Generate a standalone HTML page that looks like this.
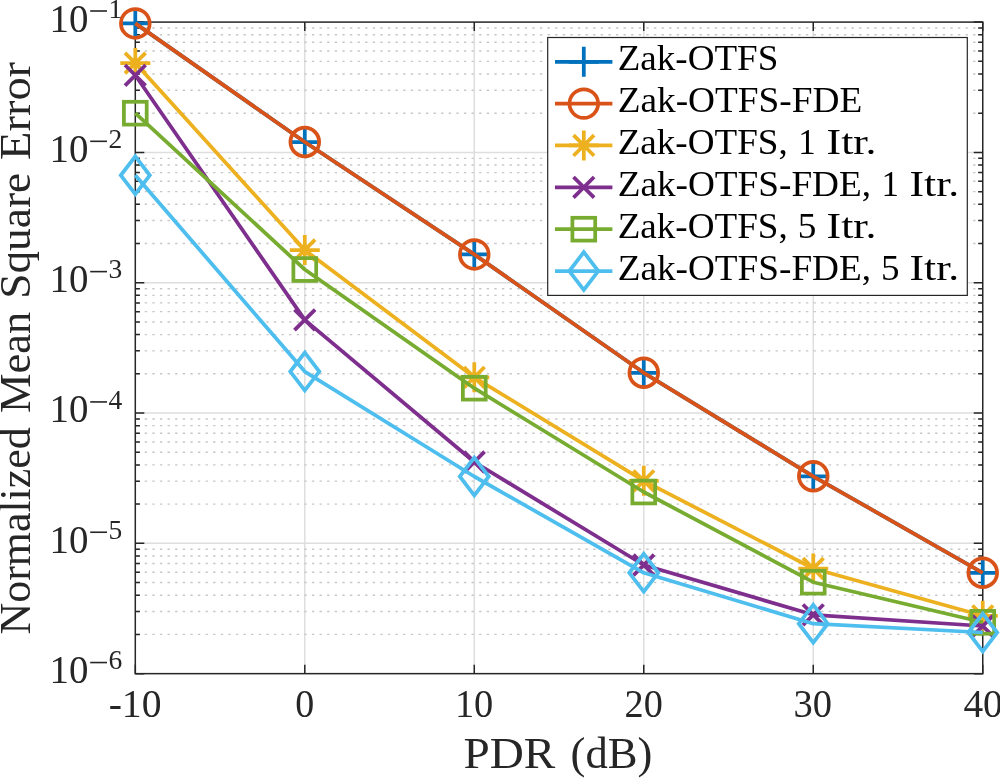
<!DOCTYPE html>
<html><head><meta charset="utf-8"><style>
html,body{margin:0;padding:0;background:#fff;width:1000px;height:778px;overflow:hidden;font-family:"Liberation Serif",serif}
svg{display:block;will-change:transform}
</style></head><body>
<svg width="1000" height="778" viewBox="0 0 1000 778">
<rect width="1000" height="778" fill="#fff"/>
<path d="M135.30,543.34H982.75M135.30,413.03H982.75M135.30,282.72H982.75M135.30,152.41H982.75M304.79,22.10V673.65M474.28,22.10V673.65M643.77,22.10V673.65M813.26,22.10V673.65" stroke="#dedede" stroke-width="1.5" fill="none"/>
<path d="M135.30,634.42H982.75M135.30,611.48H982.75M135.30,595.20H982.75M135.30,582.57H982.75M135.30,572.25H982.75M135.30,563.53H982.75M135.30,555.97H982.75M135.30,549.30H982.75M135.30,504.11H982.75M135.30,481.17H982.75M135.30,464.89H982.75M135.30,452.26H982.75M135.30,441.94H982.75M135.30,433.22H982.75M135.30,425.66H982.75M135.30,418.99H982.75M135.30,373.80H982.75M135.30,350.86H982.75M135.30,334.58H982.75M135.30,321.95H982.75M135.30,311.63H982.75M135.30,302.91H982.75M135.30,295.35H982.75M135.30,288.68H982.75M135.30,243.49H982.75M135.30,220.55H982.75M135.30,204.27H982.75M135.30,191.64H982.75M135.30,181.32H982.75M135.30,172.60H982.75M135.30,165.04H982.75M135.30,158.37H982.75M135.30,113.18H982.75M135.30,90.24H982.75M135.30,73.96H982.75M135.30,61.33H982.75M135.30,51.01H982.75M135.30,42.29H982.75M135.30,34.73H982.75M135.30,28.06H982.75" stroke="#c8c8c8" stroke-width="1.4" stroke-dasharray="2.4 5.2" stroke-dashoffset="-1.8" fill="none"/>
<path d="M135.30,673.65h9M982.75,673.65h-9M135.30,543.34h9M982.75,543.34h-9M135.30,413.03h9M982.75,413.03h-9M135.30,282.72h9M982.75,282.72h-9M135.30,152.41h9M982.75,152.41h-9M135.30,22.10h9M982.75,22.10h-9M135.30,634.42h4.6M982.75,634.42h-4.6M135.30,611.48h4.6M982.75,611.48h-4.6M135.30,595.20h4.6M982.75,595.20h-4.6M135.30,582.57h4.6M982.75,582.57h-4.6M135.30,572.25h4.6M982.75,572.25h-4.6M135.30,563.53h4.6M982.75,563.53h-4.6M135.30,555.97h4.6M982.75,555.97h-4.6M135.30,549.30h4.6M982.75,549.30h-4.6M135.30,504.11h4.6M982.75,504.11h-4.6M135.30,481.17h4.6M982.75,481.17h-4.6M135.30,464.89h4.6M982.75,464.89h-4.6M135.30,452.26h4.6M982.75,452.26h-4.6M135.30,441.94h4.6M982.75,441.94h-4.6M135.30,433.22h4.6M982.75,433.22h-4.6M135.30,425.66h4.6M982.75,425.66h-4.6M135.30,418.99h4.6M982.75,418.99h-4.6M135.30,373.80h4.6M982.75,373.80h-4.6M135.30,350.86h4.6M982.75,350.86h-4.6M135.30,334.58h4.6M982.75,334.58h-4.6M135.30,321.95h4.6M982.75,321.95h-4.6M135.30,311.63h4.6M982.75,311.63h-4.6M135.30,302.91h4.6M982.75,302.91h-4.6M135.30,295.35h4.6M982.75,295.35h-4.6M135.30,288.68h4.6M982.75,288.68h-4.6M135.30,243.49h4.6M982.75,243.49h-4.6M135.30,220.55h4.6M982.75,220.55h-4.6M135.30,204.27h4.6M982.75,204.27h-4.6M135.30,191.64h4.6M982.75,191.64h-4.6M135.30,181.32h4.6M982.75,181.32h-4.6M135.30,172.60h4.6M982.75,172.60h-4.6M135.30,165.04h4.6M982.75,165.04h-4.6M135.30,158.37h4.6M982.75,158.37h-4.6M135.30,113.18h4.6M982.75,113.18h-4.6M135.30,90.24h4.6M982.75,90.24h-4.6M135.30,73.96h4.6M982.75,73.96h-4.6M135.30,61.33h4.6M982.75,61.33h-4.6M135.30,51.01h4.6M982.75,51.01h-4.6M135.30,42.29h4.6M982.75,42.29h-4.6M135.30,34.73h4.6M982.75,34.73h-4.6M135.30,28.06h4.6M982.75,28.06h-4.6M135.30,673.65v-9M135.30,22.10v9M304.79,673.65v-9M304.79,22.10v9M474.28,673.65v-9M474.28,22.10v9M643.77,673.65v-9M643.77,22.10v9M813.26,673.65v-9M813.26,22.10v9M982.75,673.65v-9M982.75,22.10v9" stroke="#262626" stroke-width="1.5" fill="none"/>
<rect x="135.30" y="22.10" width="847.45" height="651.55" stroke="#262626" stroke-width="1.5" fill="none"/>
<polyline points="135.30,23.40 304.79,142.00 474.28,254.40 643.77,372.80 813.26,476.30 982.75,572.80" stroke="#0072BD" stroke-width="3.75" fill="none" stroke-linejoin="round"/>
<path d="M120.30,23.40H150.30M135.30,8.40V38.40" stroke="#0072BD" stroke-width="3.75" fill="none"/>
<path d="M289.79,142.00H319.79M304.79,127.00V157.00" stroke="#0072BD" stroke-width="3.75" fill="none"/>
<path d="M459.28,254.40H489.28M474.28,239.40V269.40" stroke="#0072BD" stroke-width="3.75" fill="none"/>
<path d="M628.77,372.80H658.77M643.77,357.80V387.80" stroke="#0072BD" stroke-width="3.75" fill="none"/>
<path d="M798.26,476.30H828.26M813.26,461.30V491.30" stroke="#0072BD" stroke-width="3.75" fill="none"/>
<path d="M967.75,572.80H997.75M982.75,557.80V587.80" stroke="#0072BD" stroke-width="3.75" fill="none"/>
<polyline points="135.30,23.40 304.79,142.00 474.28,254.40 643.77,372.80 813.26,476.30 982.75,572.80" stroke="#D95319" stroke-width="3.75" fill="none" stroke-linejoin="round"/>
<circle cx="135.30" cy="23.40" r="14.35" stroke="#D95319" stroke-width="3.75" fill="none"/>
<circle cx="304.79" cy="142.00" r="14.35" stroke="#D95319" stroke-width="3.75" fill="none"/>
<circle cx="474.28" cy="254.40" r="14.35" stroke="#D95319" stroke-width="3.75" fill="none"/>
<circle cx="643.77" cy="372.80" r="14.35" stroke="#D95319" stroke-width="3.75" fill="none"/>
<circle cx="813.26" cy="476.30" r="14.35" stroke="#D95319" stroke-width="3.75" fill="none"/>
<circle cx="982.75" cy="572.80" r="14.35" stroke="#D95319" stroke-width="3.75" fill="none"/>
<polyline points="135.30,63.10 304.79,250.00 474.28,377.30 643.77,480.80 813.26,568.50 982.75,615.80" stroke="#EDB120" stroke-width="3.75" fill="none" stroke-linejoin="round"/>
<path d="M120.30,63.10H150.30M135.30,48.10V78.10M125.00,52.80L145.60,73.40M125.00,73.40L145.60,52.80" stroke="#EDB120" stroke-width="3.75" fill="none"/>
<path d="M289.79,250.00H319.79M304.79,235.00V265.00M294.49,239.70L315.09,260.30M294.49,260.30L315.09,239.70" stroke="#EDB120" stroke-width="3.75" fill="none"/>
<path d="M459.28,377.30H489.28M474.28,362.30V392.30M463.98,367.00L484.58,387.60M463.98,387.60L484.58,367.00" stroke="#EDB120" stroke-width="3.75" fill="none"/>
<path d="M628.77,480.80H658.77M643.77,465.80V495.80M633.47,470.50L654.07,491.10M633.47,491.10L654.07,470.50" stroke="#EDB120" stroke-width="3.75" fill="none"/>
<path d="M798.26,568.50H828.26M813.26,553.50V583.50M802.96,558.20L823.56,578.80M802.96,578.80L823.56,558.20" stroke="#EDB120" stroke-width="3.75" fill="none"/>
<path d="M967.75,615.80H997.75M982.75,600.80V630.80M972.45,605.50L993.05,626.10M972.45,626.10L993.05,605.50" stroke="#EDB120" stroke-width="3.75" fill="none"/>
<polyline points="135.30,75.30 304.79,319.90 474.28,462.00 643.77,565.00 813.26,614.80 982.75,626.00" stroke="#7E2F8E" stroke-width="3.75" fill="none" stroke-linejoin="round"/>
<path d="M125.00,65.00L145.60,85.60M125.00,85.60L145.60,65.00" stroke="#7E2F8E" stroke-width="3.75" fill="none"/>
<path d="M294.49,309.60L315.09,330.20M294.49,330.20L315.09,309.60" stroke="#7E2F8E" stroke-width="3.75" fill="none"/>
<path d="M463.98,451.70L484.58,472.30M463.98,472.30L484.58,451.70" stroke="#7E2F8E" stroke-width="3.75" fill="none"/>
<path d="M633.47,554.70L654.07,575.30M633.47,575.30L654.07,554.70" stroke="#7E2F8E" stroke-width="3.75" fill="none"/>
<path d="M802.96,604.50L823.56,625.10M802.96,625.10L823.56,604.50" stroke="#7E2F8E" stroke-width="3.75" fill="none"/>
<path d="M972.45,615.70L993.05,636.30M972.45,636.30L993.05,615.70" stroke="#7E2F8E" stroke-width="3.75" fill="none"/>
<polyline points="135.30,113.20 304.79,269.50 474.28,388.20 643.77,492.00 813.26,582.20 982.75,622.30" stroke="#77AC30" stroke-width="3.75" fill="none" stroke-linejoin="round"/>
<rect x="123.90" y="101.80" width="22.80" height="22.80" stroke="#77AC30" stroke-width="3.75" fill="none" stroke-linejoin="miter"/>
<rect x="293.39" y="258.10" width="22.80" height="22.80" stroke="#77AC30" stroke-width="3.75" fill="none" stroke-linejoin="miter"/>
<rect x="462.88" y="376.80" width="22.80" height="22.80" stroke="#77AC30" stroke-width="3.75" fill="none" stroke-linejoin="miter"/>
<rect x="632.37" y="480.60" width="22.80" height="22.80" stroke="#77AC30" stroke-width="3.75" fill="none" stroke-linejoin="miter"/>
<rect x="801.86" y="570.80" width="22.80" height="22.80" stroke="#77AC30" stroke-width="3.75" fill="none" stroke-linejoin="miter"/>
<rect x="971.35" y="610.90" width="22.80" height="22.80" stroke="#77AC30" stroke-width="3.75" fill="none" stroke-linejoin="miter"/>
<polyline points="135.30,175.30 304.79,371.60 474.28,476.50 643.77,572.80 813.26,623.70 982.75,632.50" stroke="#4DBEEE" stroke-width="3.75" fill="none" stroke-linejoin="round"/>
<path d="M135.30,156.40L149.80,175.30L135.30,194.20L120.80,175.30Z" stroke="#4DBEEE" stroke-width="3.75" fill="none" stroke-linejoin="miter" stroke-miterlimit="10"/>
<path d="M304.79,352.70L319.29,371.60L304.79,390.50L290.29,371.60Z" stroke="#4DBEEE" stroke-width="3.75" fill="none" stroke-linejoin="miter" stroke-miterlimit="10"/>
<path d="M474.28,457.60L488.78,476.50L474.28,495.40L459.78,476.50Z" stroke="#4DBEEE" stroke-width="3.75" fill="none" stroke-linejoin="miter" stroke-miterlimit="10"/>
<path d="M643.77,553.90L658.27,572.80L643.77,591.70L629.27,572.80Z" stroke="#4DBEEE" stroke-width="3.75" fill="none" stroke-linejoin="miter" stroke-miterlimit="10"/>
<path d="M813.26,604.80L827.76,623.70L813.26,642.60L798.76,623.70Z" stroke="#4DBEEE" stroke-width="3.75" fill="none" stroke-linejoin="miter" stroke-miterlimit="10"/>
<path d="M982.75,613.60L997.25,632.50L982.75,651.40L968.25,632.50Z" stroke="#4DBEEE" stroke-width="3.75" fill="none" stroke-linejoin="miter" stroke-miterlimit="10"/>
<rect x="547.7" y="37.5" width="419.6" height="257.9" fill="#fff" stroke="#262626" stroke-width="1.2"/>
<path d="M555,61.76H612.4" stroke="#0072BD" stroke-width="3.75"/>
<path d="M568.80,61.76H598.80M583.80,46.76V76.76" stroke="#0072BD" stroke-width="3.75" fill="none"/>
<path d="M555,103.62H612.4" stroke="#D95319" stroke-width="3.75"/>
<circle cx="583.80" cy="103.62" r="14.35" stroke="#D95319" stroke-width="3.75" fill="none"/>
<path d="M555,145.48H612.4" stroke="#EDB120" stroke-width="3.75"/>
<path d="M568.80,145.48H598.80M583.80,130.48V160.48M573.50,135.18L594.10,155.78M573.50,155.78L594.10,135.18" stroke="#EDB120" stroke-width="3.75" fill="none"/>
<path d="M555,187.34H612.4" stroke="#7E2F8E" stroke-width="3.75"/>
<path d="M573.50,177.04L594.10,197.64M573.50,197.64L594.10,177.04" stroke="#7E2F8E" stroke-width="3.75" fill="none"/>
<path d="M555,229.20H612.4" stroke="#77AC30" stroke-width="3.75"/>
<rect x="572.40" y="217.80" width="22.80" height="22.80" stroke="#77AC30" stroke-width="3.75" fill="none" stroke-linejoin="miter"/>
<path d="M555,271.06H612.4" stroke="#4DBEEE" stroke-width="3.75"/>
<path d="M583.80,252.16L598.30,271.06L583.80,289.96L569.30,271.06Z" stroke="#4DBEEE" stroke-width="3.75" fill="none" stroke-linejoin="miter" stroke-miterlimit="10"/>
<text x="617.70" y="70.06" font-size="36" textLength="160.62" lengthAdjust="spacingAndGlyphs" font-family="Liberation Serif, serif" fill="#000" >Zak-OTFS</text>
<text x="617.69" y="111.92" font-size="36" textLength="244.53" lengthAdjust="spacingAndGlyphs" font-family="Liberation Serif, serif" fill="#000" >Zak-OTFS-FDE</text>
<text x="617.70" y="153.78" font-size="36" textLength="170.02" lengthAdjust="spacingAndGlyphs" font-family="Liberation Serif, serif" fill="#000" >Zak-OTFS,</text>
<text x="798.25" y="153.78" font-size="36" textLength="17.42" lengthAdjust="spacingAndGlyphs" font-family="Liberation Serif, serif" fill="#000" >1</text>
<text x="826.58" y="153.78" font-size="36" textLength="49.86" lengthAdjust="spacingAndGlyphs" font-family="Liberation Serif, serif" fill="#000" >Itr.</text>
<text x="617.69" y="195.64" font-size="36" textLength="253.34" lengthAdjust="spacingAndGlyphs" font-family="Liberation Serif, serif" fill="#000" >Zak-OTFS-FDE,</text>
<text x="881.55" y="195.64" font-size="36" textLength="17.42" lengthAdjust="spacingAndGlyphs" font-family="Liberation Serif, serif" fill="#000" >1</text>
<text x="909.59" y="195.64" font-size="36" textLength="49.64" lengthAdjust="spacingAndGlyphs" font-family="Liberation Serif, serif" fill="#000" >Itr.</text>
<text x="617.70" y="237.50" font-size="36" textLength="170.02" lengthAdjust="spacingAndGlyphs" font-family="Liberation Serif, serif" fill="#000" >Zak-OTFS,</text>
<text x="797.83" y="237.50" font-size="36" textLength="18.62" lengthAdjust="spacingAndGlyphs" font-family="Liberation Serif, serif" fill="#000" >5</text>
<text x="826.58" y="237.50" font-size="36" textLength="49.86" lengthAdjust="spacingAndGlyphs" font-family="Liberation Serif, serif" fill="#000" >Itr.</text>
<text x="617.69" y="279.96" font-size="36" textLength="253.34" lengthAdjust="spacingAndGlyphs" font-family="Liberation Serif, serif" fill="#000" >Zak-OTFS-FDE,</text>
<text x="880.94" y="279.96" font-size="36" textLength="18.50" lengthAdjust="spacingAndGlyphs" font-family="Liberation Serif, serif" fill="#000" >5</text>
<text x="909.59" y="279.96" font-size="36" textLength="49.64" lengthAdjust="spacingAndGlyphs" font-family="Liberation Serif, serif" fill="#000" >Itr.</text>
<text x="49.60" y="683.05" font-size="40" textLength="38.86" lengthAdjust="spacingAndGlyphs" font-family="Liberation Serif, serif" fill="#262626" >10</text>
<path d="M90.2,662.55H107" stroke="#262626" stroke-width="1.6"/>
<text x="108.6" y="669.35" font-size="27.5" font-family="Liberation Serif, serif" fill="#262626">6</text>
<text x="49.60" y="552.74" font-size="40" textLength="38.86" lengthAdjust="spacingAndGlyphs" font-family="Liberation Serif, serif" fill="#262626" >10</text>
<path d="M90.2,532.24H107" stroke="#262626" stroke-width="1.6"/>
<text x="108.6" y="539.04" font-size="27.5" font-family="Liberation Serif, serif" fill="#262626">5</text>
<text x="49.60" y="422.43" font-size="40" textLength="38.86" lengthAdjust="spacingAndGlyphs" font-family="Liberation Serif, serif" fill="#262626" >10</text>
<path d="M90.2,401.93H107" stroke="#262626" stroke-width="1.6"/>
<text x="108.6" y="408.73" font-size="27.5" font-family="Liberation Serif, serif" fill="#262626">4</text>
<text x="49.60" y="292.12" font-size="40" textLength="38.86" lengthAdjust="spacingAndGlyphs" font-family="Liberation Serif, serif" fill="#262626" >10</text>
<path d="M90.2,271.62H107" stroke="#262626" stroke-width="1.6"/>
<text x="108.6" y="278.42" font-size="27.5" font-family="Liberation Serif, serif" fill="#262626">3</text>
<text x="49.60" y="161.81" font-size="40" textLength="38.86" lengthAdjust="spacingAndGlyphs" font-family="Liberation Serif, serif" fill="#262626" >10</text>
<path d="M90.2,141.31H107" stroke="#262626" stroke-width="1.6"/>
<text x="108.6" y="148.11" font-size="27.5" font-family="Liberation Serif, serif" fill="#262626">2</text>
<text x="49.60" y="31.50" font-size="40" textLength="38.86" lengthAdjust="spacingAndGlyphs" font-family="Liberation Serif, serif" fill="#262626" >10</text>
<path d="M90.2,11.00H107" stroke="#262626" stroke-width="1.6"/>
<text x="108.6" y="17.80" font-size="27.5" font-family="Liberation Serif, serif" fill="#262626">1</text>
<text x="108.65" y="717.20" font-size="41" textLength="52.85" lengthAdjust="spacingAndGlyphs" font-family="Liberation Serif, serif" fill="#262626" >-10</text>
<text x="295.31" y="717.20" font-size="41" textLength="18.98" lengthAdjust="spacingAndGlyphs" font-family="Liberation Serif, serif" fill="#262626" >0</text>
<text x="454.92" y="717.20" font-size="41" textLength="38.38" lengthAdjust="spacingAndGlyphs" font-family="Liberation Serif, serif" fill="#262626" >10</text>
<text x="624.57" y="717.20" font-size="41" textLength="38.23" lengthAdjust="spacingAndGlyphs" font-family="Liberation Serif, serif" fill="#262626" >20</text>
<text x="793.62" y="717.20" font-size="41" textLength="38.49" lengthAdjust="spacingAndGlyphs" font-family="Liberation Serif, serif" fill="#262626" >30</text>
<text x="963.38" y="717.20" font-size="41" textLength="39.36" lengthAdjust="spacingAndGlyphs" font-family="Liberation Serif, serif" fill="#262626" >40</text>
<text x="463.44" y="767.80" font-size="43.5" textLength="91.79" lengthAdjust="spacingAndGlyphs" font-family="Liberation Serif, serif" fill="#262626" >PDR</text>
<text x="570.55" y="767.80" font-size="43.5" textLength="81.80" lengthAdjust="spacingAndGlyphs" font-family="Liberation Serif, serif" fill="#262626" >(dB)</text>
<g transform="translate(29.7,633.2) rotate(-90)">
<text x="-1.26" y="0.00" font-size="43.5" textLength="207.16" lengthAdjust="spacingAndGlyphs" font-family="Liberation Serif, serif" fill="#262626" >Normalized</text>
<text x="220.22" y="0.00" font-size="43.5" textLength="101.24" lengthAdjust="spacingAndGlyphs" font-family="Liberation Serif, serif" fill="#262626" >Mean</text>
<text x="334.37" y="0.00" font-size="43.5" textLength="126.04" lengthAdjust="spacingAndGlyphs" font-family="Liberation Serif, serif" fill="#262626" >Square</text>
<text x="473.26" y="0.00" font-size="43.5" textLength="98.04" lengthAdjust="spacingAndGlyphs" font-family="Liberation Serif, serif" fill="#262626" >Error</text>
</g>
</svg>
</body></html>
